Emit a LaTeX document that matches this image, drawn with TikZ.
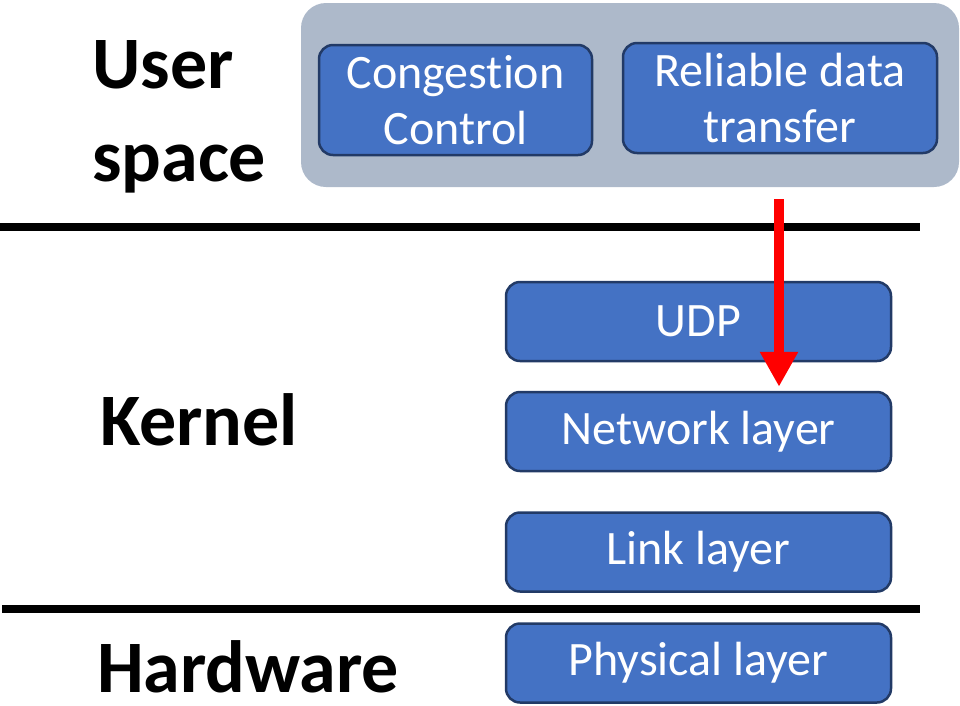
\documentclass[tikz,border=0pt]{standalone}
\usepackage{fontspec}
\setmainfont{Carlito}[Ligatures={NoCommon}]
\usetikzlibrary{arrows.meta}
\definecolor{boxblue}{HTML}{4472C4}
\definecolor{boxedge}{HTML}{223A66}
\definecolor{panelgray}{HTML}{ADB9CA}
\definecolor{arrowred}{HTML}{FF0000}
\tikzset{
  layerbox/.style={draw=boxedge, line width=2.5pt, fill=boxblue, rounded corners=14pt,
    text=white, font=\fontsize{48}{56}\selectfont, align=center, inner sep=0pt,
    minimum width=385pt, minimum height=79pt},
  toplabel/.style={font=\fontsize{74}{93}\selectfont\bfseries, inner sep=0pt},
  divider/.style={line width=8pt, black},
  redarrow/.style={draw=arrowred, line width=10pt, -{Triangle[width=36pt,length=35pt]}}
}
\begin{document}
\begin{tikzpicture}[x=1pt,y=-1pt]
\useasboundingbox (0,0) rectangle (960,705);
% user-space panel
\fill[panelgray, rounded corners=25pt] (301,3) rectangle (959,187);
\node[layerbox, minimum width=273pt, minimum height=110pt] (cc) at (455.5,100) {Congestion\\Control};
\node[layerbox, minimum width=314pt, minimum height=110pt] (rdt) at (780,98) {Reliable data\\transfer};
% dividers
\coordinate (d1a) at (0,227); \coordinate (d1b) at (920,227);
\coordinate (d2a) at (2,609); \coordinate (d2b) at (920,609);
\draw[divider] (d1a) -- (d1b);
\draw[divider] (d2a) -- (d2b);
% labels
\node[toplabel, align=left, anchor=west] (us) at (92,117) {User\\space};
\node[toplabel, anchor=base west] (kern) at (100,445) {Kernel};
\node[toplabel, anchor=base west] (hw) at (97,692) {Hardware};
% kernel / hardware stack
\node[layerbox] (udp) at (698.5,321.5) {UDP};
\node[layerbox] (net) at (698.5,431.5) {Network layer};
\node[layerbox] (link) at (698.5,552) {Link layer};
\node[layerbox] (phy) at (698.5,663) {Physical layer};
% arrow
\coordinate (astart) at (779,199);
\draw[redarrow] (astart) -- ([yshift=4pt]net.north -| astart);
\end{tikzpicture}
\end{document}
